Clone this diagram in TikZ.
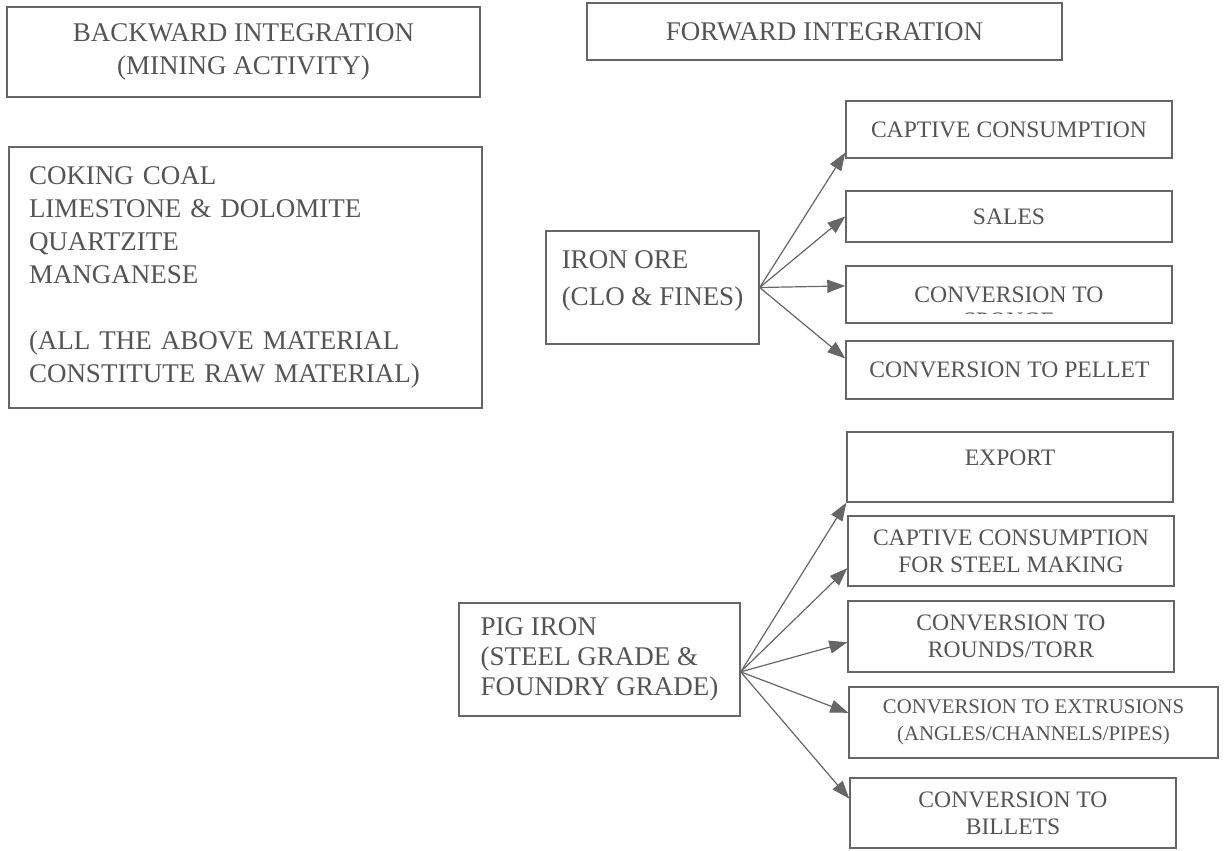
\documentclass[tikz,border=0pt]{standalone}
\usepackage{fontspec}
\setmainfont{Liberation Serif}
\usetikzlibrary{arrows.meta}
\definecolor{linegray}{gray}{0.4}
\definecolor{textgray}{gray}{0.33}
\tikzset{
	box/.style={draw=linegray, line width=0.7pt, text=textgray, inner sep=0pt, align=center, font=\fontsize{13.5}{16.5}\selectfont},
	outbox/.style={box, minimum width=163pt, font=\fontsize{11.8}{13.3}\selectfont},
	arr/.style={draw=linegray, line width=0.6pt, -{Triangle[length=9pt,width=6.5pt]}}
}
\begin{document}
\begin{tikzpicture}[x=0.5pt, y=-0.5pt]
		\useasboundingbox (0,0) rectangle (1226,851);
		
		%Backward side
		\node[box, minimum width=236.5pt, minimum height=45pt] (BI) at (243.5,52) {BACKWARD INTEGRATION\\(MINING ACTIVITY)};
		\node[box, minimum width=236.5pt, minimum height=130.5pt, text width=216.5pt, inner xsep=10pt, align=left] (RM) at (245.5,277.5) {COKING COAL\\LIMESTONE \& DOLOMITE\\QUARTZITE\\MANGANESE\\[16.5pt](ALL THE ABOVE MATERIAL\\CONSTITUTE RAW MATERIAL)};
		
		%Forward side
		\node[box, minimum width=237.5pt, minimum height=28.5pt] (FI) at (824.5,31.5) {FORWARD INTEGRATION};
		
		%Iron ore and its outputs
		\node[box, minimum width=106.5pt, minimum height=56.5pt, align=left, font=\fontsize{13.5}{18.5}\selectfont] (IO) at (652.5,287.5) {IRON ORE\\(CLO \& FINES)\\[-9.5pt]\mbox{}};
		
		\node[outbox, minimum height=28.5pt] (IO1) at (1009,129.5) {CAPTIVE CONSUMPTION};
		\node[outbox, minimum height=25.5pt] (IO2) at (1009,216.5) {SALES};
		\node[outbox, minimum height=28.5pt] (IO3) at (1009,294.5) {CONVERSION TO};
		\begin{scope}
			\clip (IO3.north west) rectangle ([yshift=5pt]IO3.south east);
			\node[anchor=base, text=textgray, font=\fontsize{11.8}{13.3}\selectfont] (IO3b) at ([yshift=-13.3pt]IO3.base) {SPONGE};
		\end{scope}
		\node[outbox, minimum width=163.5pt, minimum height=29pt] (IO4) at (1009.5,370) {CONVERSION TO PELLET};
		
		\draw[arr] (IO.east) -- (IO1.188);
		\draw[arr] (IO.east) -- (IO2.west);
		\draw[arr] (IO.east) -- (IO3.177);
		\draw[arr] (IO.east) -- (IO4.176);
		
		%Pig iron and its outputs
		\node[box, minimum width=140.5pt, minimum height=56.5pt, align=left, font=\fontsize{13.5}{15}\selectfont] (PI) at (599.5,659.5) {PIG IRON\\(STEEL GRADE \&\\FOUNDRY GRADE)};
		
		\node[outbox, minimum height=35pt] (PI1) at (1010,467) {EXPORT\\[-4.3pt]\mbox{}};
		\node[outbox, minimum height=35pt] (PI2) at (1011,551) {CAPTIVE CONSUMPTION\\FOR STEEL MAKING};
		\node[outbox, minimum height=35.5pt] (PI3) at (1011,636.5) {CONVERSION TO\\ROUNDS/TORR};
		\node[outbox, minimum width=184.5pt, minimum height=35.5pt, font=\fontsize{10.4}{13.5}\selectfont] (PI4) at (1033.5,722.5) {CONVERSION TO EXTRUSIONS\\(ANGLES/CHANNELS/PIPES)};
		\node[outbox, minimum height=35pt] (PI5) at (1013,813) {CONVERSION TO\\BILLETS};
		
		\draw[arr] (PI.-5.5) -- (PI1.south west);
		\draw[arr] (PI.-5.5) -- (PI2.186);
		\draw[arr] (PI.-5.5) -- (PI3.182);
		\draw[arr] (PI.-5.5) -- (PI4.177);
		\draw[arr] (PI.-5.5) -- (PI5.175);
		
\end{tikzpicture}
\end{document}
